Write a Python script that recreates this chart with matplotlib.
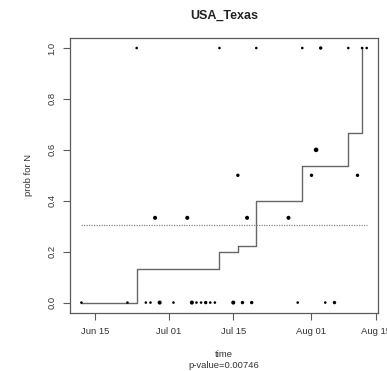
import datetime as dt
import numpy as np
import matplotlib
matplotlib.use("Agg")
import matplotlib.pyplot as plt
import matplotlib.dates as mdates

plt.rcParams["font.family"] = ["Liberation Sans", "DejaVu Sans"]

# observed points: date, probability, weight (number of sequences)
obs_dates = ["2020-06-12", "2020-06-22", "2020-06-26", "2020-06-27", "2020-06-29",
             "2020-07-02", "2020-07-06", "2020-07-07", "2020-07-08", "2020-07-09",
             "2020-07-10", "2020-07-11", "2020-07-15", "2020-07-17", "2020-07-19",
             "2020-07-29", "2020-08-04", "2020-08-06",
             "2020-06-24", "2020-07-12", "2020-07-20", "2020-07-30", "2020-08-03",
             "2020-08-09", "2020-08-12", "2020-08-13",
             "2020-07-16", "2020-08-01", "2020-08-11",
             "2020-08-02",
             "2020-06-28", "2020-07-05", "2020-07-18", "2020-07-27"]
obs_prob = [0, 0, 0, 0, 0, 0, 0, 0, 0, 0, 0, 0, 0, 0, 0, 0, 0, 0,
            1, 1, 1, 1, 1, 1, 1, 1,
            0.5, 0.5, 0.5,
            0.6,
            0.333, 0.333, 0.333, 0.333]
obs_n = [1, 1, 1, 1, 3, 1, 3, 1, 1, 2, 1, 1, 3, 2, 2, 1, 1, 2,
         1, 1, 1, 1, 2, 1, 1, 1,
         2, 2, 2,
         4,
         3, 3, 3, 3]

# cumulative estimate (step function)
step_dates = ["2020-06-12", "2020-06-24", "2020-07-12", "2020-07-16", "2020-07-20",
              "2020-07-30", "2020-08-09", "2020-08-12", "2020-08-12"]
step_vals = [0, 0.133, 0.2, 0.222, 0.4, 0.538, 0.667, 1.0, 1.0]

mean_prob = 0.305
p_value = "0.00746"

to_num = lambda ds: mdates.date2num([dt.datetime.strptime(d, "%Y-%m-%d") for d in ds])
x_obs = to_num(obs_dates)
x_step = to_num(step_dates)

fig = plt.figure(figsize=(3.87, 3.71), dpi=100)
ax = fig.add_axes([0.181, 0.157, 0.796, 0.741])

grey = "#5a5a5a"
ax.step(x_step, step_vals, where="post", color="#666666", lw=1.0)
ax.hlines(mean_prob, x_obs.min(), x_obs.max(), colors="#888888", lw=0.9,
          linestyles=(0, (1, 1)))
sizes = 2.5 * np.array(obs_n) + 1
ax.scatter(x_obs, obs_prob, s=sizes, color="black", zorder=3, linewidths=0)

x0, x1 = x_obs.min(), x_obs.max()
pad = 0.04 * (x1 - x0)
ax.set_xlim(x0 - pad, x1 + pad)
ax.set_ylim(-0.04, 1.04)

ticks = to_num(["2020-06-15", "2020-07-01", "2020-07-15", "2020-08-01", "2020-08-15"])
ax.set_xticks(ticks)
ax.set_xticklabels(["Jun 15", "Jul 01", "Jul 15", "Aug 01", "Aug 15"])
ax.set_yticks([0, 0.2, 0.4, 0.6, 0.8, 1.0])
ax.set_yticklabels(["0.0", "0.2", "0.4", "0.6", "0.8", "1.0"], rotation=90, va="center")

for s in ax.spines.values():
    s.set_color(grey)
    s.set_linewidth(0.9)
ax.tick_params(colors="#333333", labelsize=6.8, length=5, width=0.8, pad=5)
ax.tick_params(axis="both", color=grey)

ax.set_title("USA_Texas", fontsize=9, fontweight="bold", pad=14, color="#222222")
ax.set_ylabel("prob for N", fontsize=6.8, labelpad=10, color="#333333")
ax.set_xlabel("time\np-value=" + p_value, fontsize=6.8, labelpad=10, color="#333333",
              linespacing=1.3)

fig.savefig("out.png", dpi=100)
